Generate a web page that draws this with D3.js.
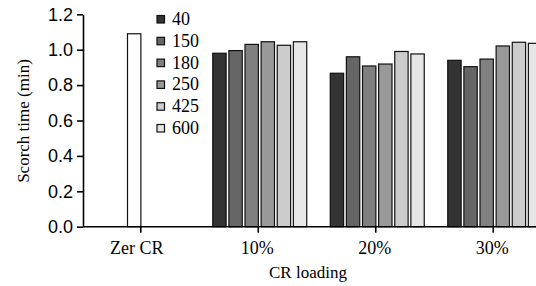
<!DOCTYPE html>
<html>
<head>
<meta charset="utf-8">
<script src="https://cdn.jsdelivr.net/npm/d3@7"></script>
<style>
  body { margin: 0; background: #fff; }
  svg { display: block; font-family: "Liberation Serif", "Times New Roman", serif; }
</style>
</head>
<body>
<div id="chart"></div>
<script>
// categories along x, and particle sizes (series)
const categories = ["Zer CR", "10%", "20%", "30%"];
const series = ["40", "150", "180", "250", "425", "600"];
const colors = ["#333333", "#666666", "#808080", "#999999", "#cccccc", "#e6e6e6"];

// scorch time (min)
const zeroCR = 1.09;
const load10 = [0.98, 0.995, 1.03, 1.045, 1.025, 1.045];
const load20 = [0.867, 0.96, 0.908, 0.919, 0.99, 0.976];
const load30 = [0.94, 0.904, 0.947, 1.021, 1.042, 1.036];

const yTicks = [0, 0.2, 0.4, 0.6, 0.8, 1.0, 1.2];

const groups = [
  { cat: "10%", vals: load10 },
  { cat: "20%", vals: load20 },
  { cat: "30%", vals: load30 },
];

const W = 536, H = 286;
const svg = d3.select("#chart").append("svg").attr("width", W).attr("height", H);

const axisX = 83;
const x0 = d3.scaleBand().domain(categories).range([82, 552])
  .paddingInner(0.2).paddingOuter(0.1);
const x1 = d3.scaleBand().domain(series).range([1.5, x0.bandwidth() + 1.5])
  .paddingInner(0.17);
const y = d3.scaleLinear().domain([0, 1.2]).range([226.7, 14.3]);

// bars
const g = svg.append("g");
groups.forEach(grp => {
  g.selectAll(null)
    .data(grp.vals)
    .enter().append("rect")
    .attr("x", (d, i) => x0(grp.cat) + x1(series[i]))
    .attr("y", d => y(d))
    .attr("width", x1.bandwidth())
    .attr("height", d => y(0) - y(d))
    .attr("fill", (d, i) => colors[i])
    .attr("stroke", "#111")
    .attr("stroke-width", 1.2);
});
// the unfilled reference compound
g.append("rect")
  .attr("x", x0("Zer CR") + x1(series[2]))
  .attr("y", y(zeroCR))
  .attr("width", x1.bandwidth())
  .attr("height", y(0) - y(zeroCR))
  .attr("fill", "#fff")
  .attr("stroke", "#111")
  .attr("stroke-width", 1.2);

// y axis
const gy = svg.append("g")
  .attr("transform", "translate(" + axisX + ",0)")
  .call(d3.axisLeft(y).tickValues(yTicks).tickFormat(d3.format(".1f")).tickSize(6).tickSizeOuter(0).tickPadding(4));
gy.selectAll("text").style("font-size", "18px").attr("fill", "#000");
gy.select(".domain").attr("stroke-width", 1.6);
gy.selectAll(".tick line").attr("stroke-width", 1.6);

// x axis
const xTickPos = d3.scaleOrdinal().domain(categories)
  .range(categories.map(c => x0(c) + x0.bandwidth() / 2));
const gx = svg.append("g")
  .attr("transform", "translate(0," + y(0) + ")");
gx.append("line")
  .attr("x1", axisX).attr("x2", W)
  .attr("stroke", "#000").attr("stroke-width", 1.6);
categories.forEach((c, i) => {
  gx.append("line")
    .attr("x1", xTickPos(c)).attr("x2", xTickPos(c))
    .attr("y1", 0).attr("y2", 6)
    .attr("stroke", "#000").attr("stroke-width", 1.6);
  gx.append("text")
    .attr("x", xTickPos(c))
    .attr("dx", i == 0 ? -4 : -1)
    .attr("y", 27)
    .attr("text-anchor", "middle")
    .style("font-size", "18px")
    .text(c);
});

// axis titles
svg.append("text")
  .attr("transform", "rotate(-90)")
  .attr("x", -121)
  .attr("y", 29)
  .attr("text-anchor", "middle")
  .style("font-size", "17px")
  .text("Scorch time (min)");

svg.append("text")
  .attr("x", 308)
  .attr("y", 278)
  .attr("text-anchor", "middle")
  .style("font-size", "17px")
  .text("CR loading");

// legend
const leg = svg.append("g").attr("transform", "translate(157,15.5)");
series.forEach((s, i) => {
  const row = leg.append("g").attr("transform", "translate(0," + i * 21.8 + ")");
  row.append("rect")
    .attr("width", 7.5).attr("height", 7.5)
    .attr("fill", colors[i])
    .attr("stroke", "#111").attr("stroke-width", 1.2);
  row.append("text")
    .attr("x", 15)
    .attr("y", 9.5)
    .style("font-size", "18px")
    .text(s);
});
</script>
</body>
</html>
